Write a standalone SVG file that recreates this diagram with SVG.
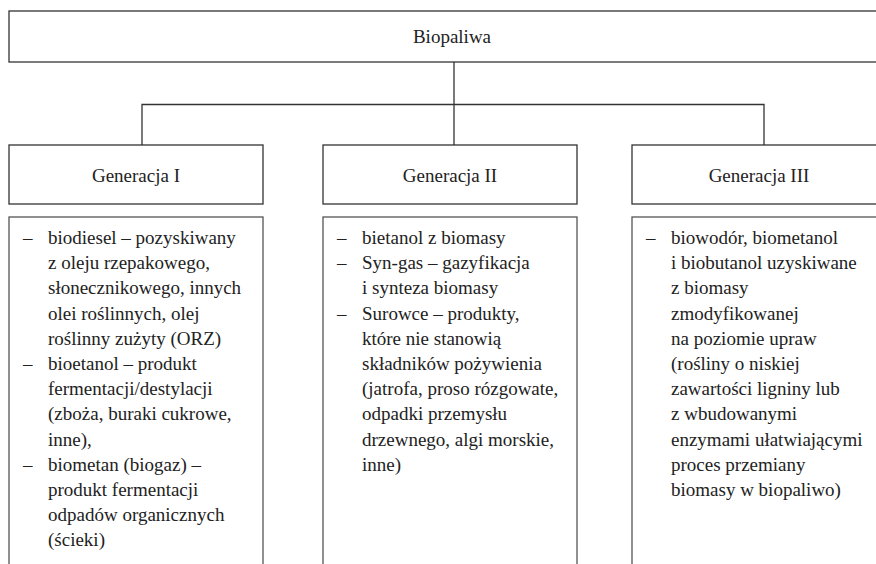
<svg xmlns="http://www.w3.org/2000/svg" width="876" height="564" viewBox="0 0 876 564">
<style>
.box{fill:#fff;stroke:#333;stroke-width:1.3}
.cbox{fill:#fff;stroke:#555;stroke-width:1.3}
text{font-family:'Liberation Serif','Times New Roman',Times,serif;font-size:19px;fill:#222}
.c{text-anchor:middle}
.con{fill:none;stroke:#333;stroke-width:1.3}
</style>
<rect width="876" height="564" fill="#fff"/>
<g id="connectors">
<path class="con" d="M454 62V145M142 145V104.5H764V145"/>
</g>
<g id="biopaliwa">
<rect class="box" x="9" y="11" width="890" height="51"/>
<text class="c" x="452" y="43" font-family="Liberation Serif, serif">Biopaliwa</text>
</g>
<g id="gen1">
<rect class="box" x="9" y="145" width="254" height="59"/>
<text class="c" x="136" y="182" font-family="Liberation Serif, serif">Generacja I</text>
</g>
<g id="gen2">
<rect class="box" x="323" y="145" width="254" height="59"/>
<text class="c" x="450" y="182" font-family="Liberation Serif, serif">Generacja II</text>
</g>
<g id="gen3">
<rect class="box" x="632" y="145" width="254" height="59"/>
<text class="c" x="759" y="182" font-family="Liberation Serif, serif">Generacja III</text>
</g>
<g id="list1" font-family="Liberation Serif, serif">
<rect class="cbox" x="9" y="217" width="254" height="400"/>
<text x="23" y="244">–</text>
<text x="23" y="370">–</text>
<text x="23" y="471">–</text>
<text>
<tspan x="48" y="244">biodiesel – pozyskiwany</tspan>
<tspan x="48" y="269.2">z oleju rzepakowego,</tspan>
<tspan x="48" y="294.4">słonecznikowego, innych</tspan>
<tspan x="48" y="319.6">olei roślinnych, olej</tspan>
<tspan x="48" y="344.8">roślinny zużyty (ORZ)</tspan>
<tspan x="48" y="370">bioetanol – produkt</tspan>
<tspan x="48" y="395.2">fermentacji/destylacji</tspan>
<tspan x="48" y="420.4">(zboża, buraki cukrowe,</tspan>
<tspan x="48" y="445.6">inne),</tspan>
<tspan x="48" y="470.8">biometan (biogaz) –</tspan>
<tspan x="48" y="496">produkt fermentacji</tspan>
<tspan x="48" y="521.2">odpadów organicznych</tspan>
<tspan x="48" y="546.4">(ścieki)</tspan>
</text>
</g>
<g id="list2" font-family="Liberation Serif, serif">
<rect class="cbox" x="323" y="217" width="254" height="400"/>
<text x="337" y="244">–</text>
<text x="337" y="269.2">–</text>
<text x="337" y="319.6">–</text>
<text>
<tspan x="362" y="244">bietanol z biomasy</tspan>
<tspan x="362" y="269.2">Syn-gas – gazyfikacja</tspan>
<tspan x="362" y="294.4">i synteza biomasy</tspan>
<tspan x="362" y="319.6">Surowce – produkty,</tspan>
<tspan x="362" y="344.8">które nie stanowią</tspan>
<tspan x="362" y="370">składników pożywienia</tspan>
<tspan x="362" y="395.2">(jatrofa, proso rózgowate,</tspan>
<tspan x="362" y="420.4">odpadki przemysłu</tspan>
<tspan x="362" y="445.6">drzewnego, algi morskie,</tspan>
<tspan x="362" y="470.8">inne)</tspan>
</text>
</g>
<g id="list3" font-family="Liberation Serif, serif">
<rect class="cbox" x="632" y="217" width="254" height="400"/>
<text x="646" y="244">–</text>
<text>
<tspan x="671" y="244">biowodór, biometanol</tspan>
<tspan x="671" y="269.2">i biobutanol uzyskiwane</tspan>
<tspan x="671" y="294.4">z biomasy</tspan>
<tspan x="671" y="319.6">zmodyfikowanej</tspan>
<tspan x="671" y="344.8">na poziomie upraw</tspan>
<tspan x="671" y="370">(rośliny o niskiej</tspan>
<tspan x="671" y="395.2">zawartości ligniny lub</tspan>
<tspan x="671" y="420.4">z wbudowanymi</tspan>
<tspan x="671" y="445.6">enzymami ułatwiającymi</tspan>
<tspan x="671" y="470.8">proces przemiany</tspan>
<tspan x="671" y="496">biomasy w biopaliwo)</tspan>
</text>
</g>
</svg>
